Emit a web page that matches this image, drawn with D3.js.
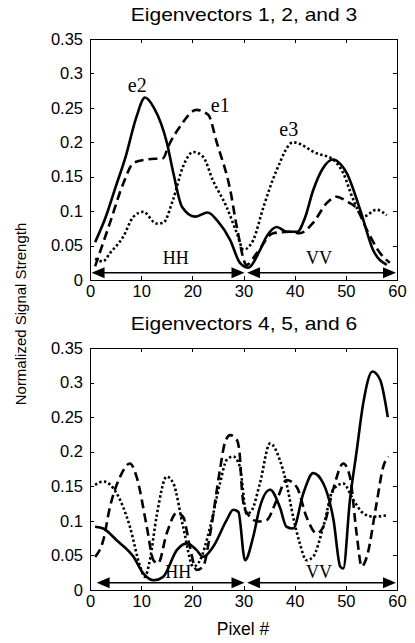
<!DOCTYPE html>
<meta charset="utf-8">
<style>
body { margin: 0; background: #fff; }
svg text { font-family: Arial, "Liberation Sans", sans-serif; fill: #000; }
.axis path, .axis line { stroke: #000; shape-rendering: crispEdges; }
.axis text { font-size: 16.5px; }
.curve { fill: none; stroke: #000; stroke-width: 2.6px; }
.tag { font-family: "Times New Roman", "Liberation Serif", serif; }
</style>
<body>
<div id="chart"></div>
<script src="https://d3js.org/d3.v7.min.js"></script>
<script>

// ---- panel 1: eigenvectors 1, 2, 3 ----
var e1Pixel = [1, 3.9, 6.5, 8.5, 11, 14.3, 15.3, 17.6, 20.8, 23.1, 24.8, 27.4, 28.7, 30.6, 32.6, 35.8, 39, 41, 43.6, 46.3, 48.2, 50.2, 52.1, 54.1, 56.7, 58.6];
var e1Value = [0.02, 0.083, 0.14, 0.17, 0.175, 0.177, 0.194, 0.223, 0.247, 0.24, 0.199, 0.131, 0.077, 0.022, 0.039, 0.068, 0.07, 0.068, 0.083, 0.112, 0.121, 0.114, 0.104, 0.073, 0.039, 0.025];

var e2Pixel = [1, 3, 5, 7, 9, 10.75, 12.5, 15, 16.3, 18, 20.5, 23, 25, 27.4, 29.3, 31, 33, 34.5, 36.5, 38.5, 40.5, 42, 43.6, 45.5, 47.5, 49, 50.2, 52.8, 55.3, 58];
var e2Value = [0.055, 0.09, 0.135, 0.18, 0.235, 0.265, 0.25, 0.2, 0.155, 0.106, 0.092, 0.098, 0.085, 0.058, 0.025, 0.018, 0.04, 0.063, 0.077, 0.07, 0.07, 0.09, 0.13, 0.162, 0.175, 0.168, 0.155, 0.102, 0.044, 0.022];

var e3Pixel = [1, 2.5, 3.9, 6.5, 8.5, 10.4, 13, 14.3, 16.2, 18.2, 20.2, 22.1, 24, 26.7, 28.7, 30, 31.9, 33.9, 36.5, 39.7, 44.3, 47.5, 49.5, 51.5, 53.4, 56, 58];
var e3Value = [0.031, 0.027, 0.039, 0.063, 0.092, 0.099, 0.082, 0.083, 0.116, 0.165, 0.186, 0.179, 0.145, 0.106, 0.068, 0.044, 0.058, 0.106, 0.16, 0.2, 0.184, 0.175, 0.155, 0.116, 0.092, 0.102, 0.094];

// ---- panel 2: eigenvectors 4, 5, 6 ----
var e4Pixel = [1, 2.6, 5.2, 8.5, 10.4, 12.5, 14.3, 17, 18.9, 20.8, 22.1, 24.1, 26.7, 28, 29, 30.3, 31.9, 33.2, 35.2, 37.1, 38.4, 39.7, 41.7, 43.6, 45.6, 47.6, 48.9, 49.5, 50.8, 52.1, 53.4, 55.2, 56.7, 58.2];
var e4Value = [0.0915, 0.089, 0.072, 0.048, 0.024, 0.014, 0.019, 0.058, 0.0675, 0.058, 0.048, 0.063, 0.101, 0.116, 0.113, 0.043, 0.077, 0.12, 0.145, 0.12, 0.0915, 0.089, 0.14, 0.169, 0.154, 0.101, 0.034, 0.031, 0.13, 0.2, 0.27, 0.316, 0.304, 0.25];

var e5Pixel = [1, 2.6, 3.9, 5.9, 7.8, 9.1, 11.1, 12.4, 13.3, 15, 16.9, 18.2, 19.5, 20.8, 22.1, 23.5, 25.4, 26.4, 27.4, 28.7, 29.3, 29.6, 30.3, 32.9, 34.5, 36.5, 38.4, 40.4, 42.3, 44.3, 45.6, 47.5, 49.5, 50.8, 52.1, 53.1, 54.1, 56, 57.3, 58.3];
var e5Value = [0.048, 0.072, 0.12, 0.164, 0.183, 0.164, 0.0915, 0.043, 0.0385, 0.082, 0.111, 0.106, 0.063, 0.029, 0.034, 0.082, 0.174, 0.214, 0.224, 0.217, 0.193, 0.154, 0.116, 0.099, 0.101, 0.13, 0.159, 0.149, 0.106, 0.082, 0.0915, 0.145, 0.183, 0.164, 0.082, 0.034, 0.048, 0.125, 0.178, 0.193];

var e6Pixel = [1, 2.6, 5.2, 7.8, 9.8, 10.7, 11.7, 13, 15, 16.3, 18.2, 20.2, 21.5, 23.5, 25.4, 26.7, 28, 29.3, 30.6, 31.6, 33.2, 35.2, 37.1, 38.4, 39.7, 41, 42.3, 43.6, 45.6, 47.5, 49.5, 51.5, 53.4, 55.4, 58];
var e6Value = [0.152, 0.157, 0.14, 0.0915, 0.034, 0.019, 0.043, 0.106, 0.164, 0.154, 0.0915, 0.034, 0.043, 0.0915, 0.154, 0.188, 0.193, 0.178, 0.11, 0.115, 0.154, 0.212, 0.188, 0.154, 0.106, 0.0675, 0.043, 0.048, 0.0915, 0.145, 0.154, 0.13, 0.111, 0.106, 0.108];

// polarisation ranges drawn as double arrows: [from, to] in pixel #
var hhRange1 = [0.3, 30.2], vvRange1 = [30.7, 59.8];
var hhRange2 = [1.3, 30.2], vvRange2 = [30.7, 59.8];

var xTicks = [0, 10, 20, 30, 40, 50, 60];
var yTicks = [0, 0.05, 0.1, 0.15, 0.2, 0.25, 0.3, 0.35];

var width = 415, height = 643;
var left = 90, right = 397;

var svg = d3.select("#chart").append("svg")
    .attr("width", width)
    .attr("height", height);

var x = d3.scaleLinear().domain([0, 60]).range([left, right]);

var line = d3.line().curve(d3.curveMonotoneX);

var dashOf = { solid: null, dashed: "9,5", dotted: "2.4,2.4" };

function toPoints(px, val) {
    return px.map((p, i) => [p, val[i]]);
}

function drawPanel(top, bottom, title, series, hh, vv, labelY) {
    var y = d3.scaleLinear().domain([0, 0.35]).range([bottom, top]);
    var g = svg.append("g");

    // title (a little stretched sideways like the scanned original)
    g.append("text")
        .attr("transform", "translate(244," + (top - 18) + ") scale(1.2,1)")
        .attr("text-anchor", "middle")
        .style("font-size", "17.5px")
        .text(title);

    // frame with inward ticks on every side
    g.append("g").attr("class", "axis")
        .attr("transform", "translate(0," + bottom + ")")
        .call(d3.axisBottom(x).tickValues(xTicks).tickSizeInner(-4).tickSizeOuter(0).tickPadding(5).tickFormat(d3.format("d")));
    g.append("g").attr("class", "axis")
        .attr("transform", "translate(0," + top + ")")
        .call(d3.axisTop(x).tickValues(xTicks).tickSizeInner(-4).tickSizeOuter(0).tickFormat(""));
    g.append("g").attr("class", "axis")
        .attr("transform", "translate(" + left + ",0)")
        .call(d3.axisLeft(y).tickValues(yTicks).tickSizeInner(-4).tickSizeOuter(0).tickPadding(7).tickFormat(d => d == 0 ? "0" : d3.format("")(+d.toFixed(2))));
    g.append("g").attr("class", "axis")
        .attr("transform", "translate(" + right + ",0)")
        .call(d3.axisRight(y).tickValues(yTicks).tickSizeInner(-4).tickSizeOuter(0).tickFormat(""));

    // curves
    series.forEach(function(s) {
        g.append("path")
            .datum(toPoints(s.px, s.val))
            .attr("class", "curve")
            .attr("stroke-dasharray", dashOf[s.style])
            .attr("d", line.x(d => x(d[0])).y(d => y(d[1])));
    });

    // double arrows
    var ay = y(0.0105);
    [hh, vv].forEach(function(r) {
        var x0 = x(r[0]), x1 = x(r[1]);
        g.append("line")
            .attr("x1", x0 + 10).attr("x2", x1 - 10)
            .attr("y1", ay).attr("y2", ay)
            .attr("stroke", "#000").attr("stroke-width", 1.6);
        g.append("path")
            .attr("d", "M" + x0 + "," + ay + "l13,-5.5v11z")
            .attr("fill", "#000");
        g.append("path")
            .attr("d", "M" + x1 + "," + ay + "l-13,-5.5v11z")
            .attr("fill", "#000");
    });

    g.append("text").attr("class", "tag")
        .attr("x", x((hh[0] + hh[1]) / 2 + 1.5)).attr("y", y(labelY))
        .attr("text-anchor", "middle")
        .style("font-size", "18px")
        .text("HH");
    g.append("text").attr("class", "tag")
        .attr("x", x((vv[0] + vv[1]) / 2 - 0.5)).attr("y", y(labelY))
        .attr("text-anchor", "middle")
        .style("font-size", "18px")
        .text("VV");

    return { g: g, y: y };
}

var p1 = drawPanel(39, 280, "Eigenvectors 1, 2, and 3", [
    { px: e1Pixel, val: e1Value, style: "dashed" },
    { px: e2Pixel, val: e2Value, style: "solid" },
    { px: e3Pixel, val: e3Value, style: "dotted" }
], hhRange1, vvRange1, 0.023);

var p2 = drawPanel(348, 590, "Eigenvectors 4, 5, and 6", [
    { px: e4Pixel, val: e4Value, style: "solid" },
    { px: e5Pixel, val: e5Value, style: "dashed" },
    { px: e6Pixel, val: e6Value, style: "dotted" }
], hhRange2, vvRange2, 0.017);

// curve names in the first panel
var curveTags = [
    { name: "e2", px: 7.4, val: 0.273 },
    { name: "e1", px: 23.6, val: 0.244 },
    { name: "e3", px: 37.0, val: 0.209 }
];
p1.g.selectAll(".ename")
    .data(curveTags)
    .enter().append("text")
    .attr("class", "tag")
    .attr("x", d => x(d.px))
    .attr("y", d => p1.y(d.val))
    .style("font-size", "20px")
    .text(d => d.name);

// shared axis titles
svg.append("text")
    .attr("transform", "translate(26,314) rotate(-90)")
    .attr("text-anchor", "middle")
    .style("font-size", "15px")
    .text("Normalized Signal Strength");

svg.append("text")
    .attr("x", 243).attr("y", 635)
    .attr("text-anchor", "middle")
    .style("font-size", "17.5px")
    .text("Pixel #");

</script>
